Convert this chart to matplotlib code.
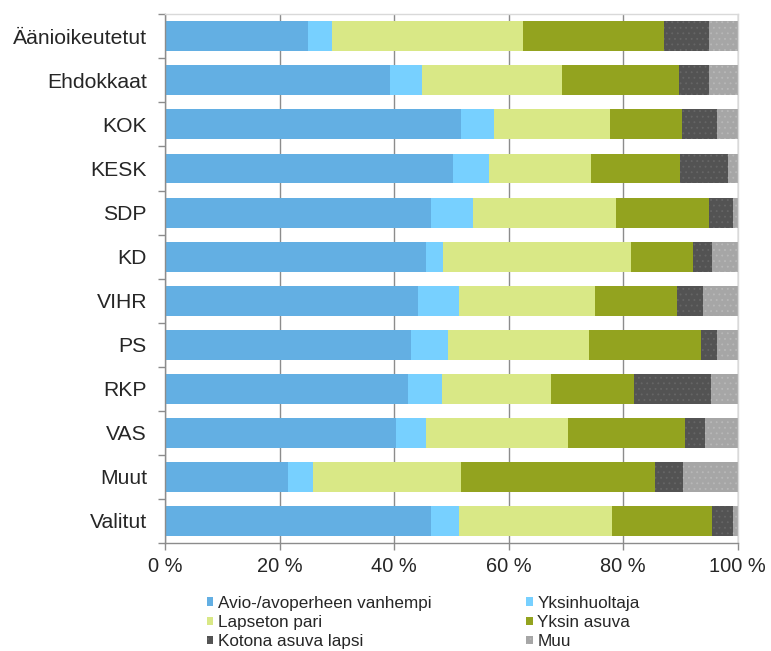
import matplotlib
matplotlib.use('Agg')
import matplotlib.pyplot as plt
import numpy as np
from matplotlib.ticker import MultipleLocator, FuncFormatter

plt.rcParams['font.family'] = ['Liberation Sans', 'DejaVu Sans']
plt.rcParams['hatch.linewidth'] = 0.6

CATEGORIES = ['Äänioikeutetut', 'Ehdokkaat', 'KOK', 'KESK', 'SDP', 'KD',
              'VIHR', 'PS', 'RKP', 'VAS', 'Muut', 'Valitut']

SERIES_NAMES = ['Avio-/avoperheen vanhempi', 'Yksinhuoltaja', 'Lapseton pari',
                'Yksin asuva', 'Kotona asuva lapsi', 'Muu']

# percentages per category, one list per segment
AVIO = [25.0, 39.3, 51.6, 50.2, 46.4, 45.5, 44.1, 43.0, 42.4, 40.4, 21.4, 46.4]
YKSINHUOLTAJA = [4.2, 5.6, 5.9, 6.4, 7.4, 3.1, 7.3, 6.4, 5.9, 5.1, 4.5, 5.0]
LAPSETON = [33.3, 24.4, 20.2, 17.7, 25.0, 32.7, 23.7, 24.6, 19.0, 24.9, 25.7, 26.6]
YKSIN_ASUVA = [24.6, 20.4, 12.5, 15.6, 16.2, 10.9, 14.3, 19.6, 14.6, 20.4, 33.9, 17.5]
KOTONA = [7.9, 5.3, 6.2, 8.4, 4.2, 3.3, 4.5, 2.8, 13.4, 3.4, 5.0, 3.7]
MUU = [5.0, 5.0, 3.6, 1.7, 0.8, 4.5, 6.1, 3.6, 4.7, 5.8, 9.5, 0.8]

COLORS = ['#63AFE3', '#77D0FF', '#D9E886', '#93A31F', '#535353', '#A6A6A6']
HATCH_COLORS = [None, None, None, None, '#666666', '#b8b8b8']

TEXT_COLOR = '#262626'
GRID_COLOR = '#8c8c8c'

fig = plt.figure(figsize=(7.71, 6.51), dpi=100)
ax = fig.add_axes([0.214, 0.166, 0.743, 0.812])

series = [AVIO, YKSINHUOLTAJA, LAPSETON, YKSIN_ASUVA, KOTONA, MUU]
y = np.arange(len(CATEGORIES))
left = np.zeros(len(CATEGORIES))
handles = []
for i, vals in enumerate(series):
    vals = np.array(vals)
    if HATCH_COLORS[i] is None:
        h = ax.barh(y, vals, left=left, height=0.68, color=COLORS[i],
                    linewidth=0, label=SERIES_NAMES[i])
    else:
        h = ax.barh(y, vals, left=left, height=0.68, facecolor=COLORS[i],
                    edgecolor=HATCH_COLORS[i], hatch='...', linewidth=0,
                    label=SERIES_NAMES[i])
    handles.append(h)
    left += vals

ax.set_xlim(0, 100)
ax.set_ylim(len(CATEGORIES) - 0.5, -0.5)
ax.set_axisbelow(True)

# Grid and axes / Excel-like layout
ax.xaxis.set_major_locator(MultipleLocator(20))
ax.xaxis.set_major_formatter(FuncFormatter(lambda v, p: f'{int(v)} %'))
ax.grid(True, axis='x', color=GRID_COLOR, linewidth=1.0)

ax.set_yticks(y)
ax.set_yticklabels(CATEGORIES)
ax.set_yticks(np.arange(-0.5, len(CATEGORIES) + 0.5, 1), minor=True)
ax.tick_params(axis='y', which='major', length=0, pad=13,
               labelsize=15.2, labelcolor=TEXT_COLOR)
ax.tick_params(axis='y', which='minor', length=5, width=1.0,
               color=GRID_COLOR, direction='out')
ax.tick_params(axis='x', which='major', length=5, width=1.0,
               color=GRID_COLOR, direction='out', pad=5,
               labelsize=14.4, labelcolor=TEXT_COLOR)

for side in ['left', 'bottom']:
    ax.spines[side].set_color(GRID_COLOR)
    ax.spines[side].set_linewidth(1.0)
for side in ['top', 'right']:
    ax.spines[side].set_color('#d9d9d9')
    ax.spines[side].set_linewidth(1.0)

# Legend: row-wise order with two columns
order = [0, 2, 4, 1, 3, 5]
leg = fig.legend([handles[k] for k in order], [SERIES_NAMES[k] for k in order],
                 ncol=2, loc='upper left', bbox_to_anchor=(0.268, 0.085),
                 frameon=False, fontsize=12.3, handlelength=0.4,
                 handleheight=0.4, handletextpad=0.25, labelspacing=0.25,
                 columnspacing=5.55, borderpad=0, borderaxespad=0)
for t in leg.get_texts():
    t.set_color(TEXT_COLOR)

plt.savefig('out.png', dpi=100)
